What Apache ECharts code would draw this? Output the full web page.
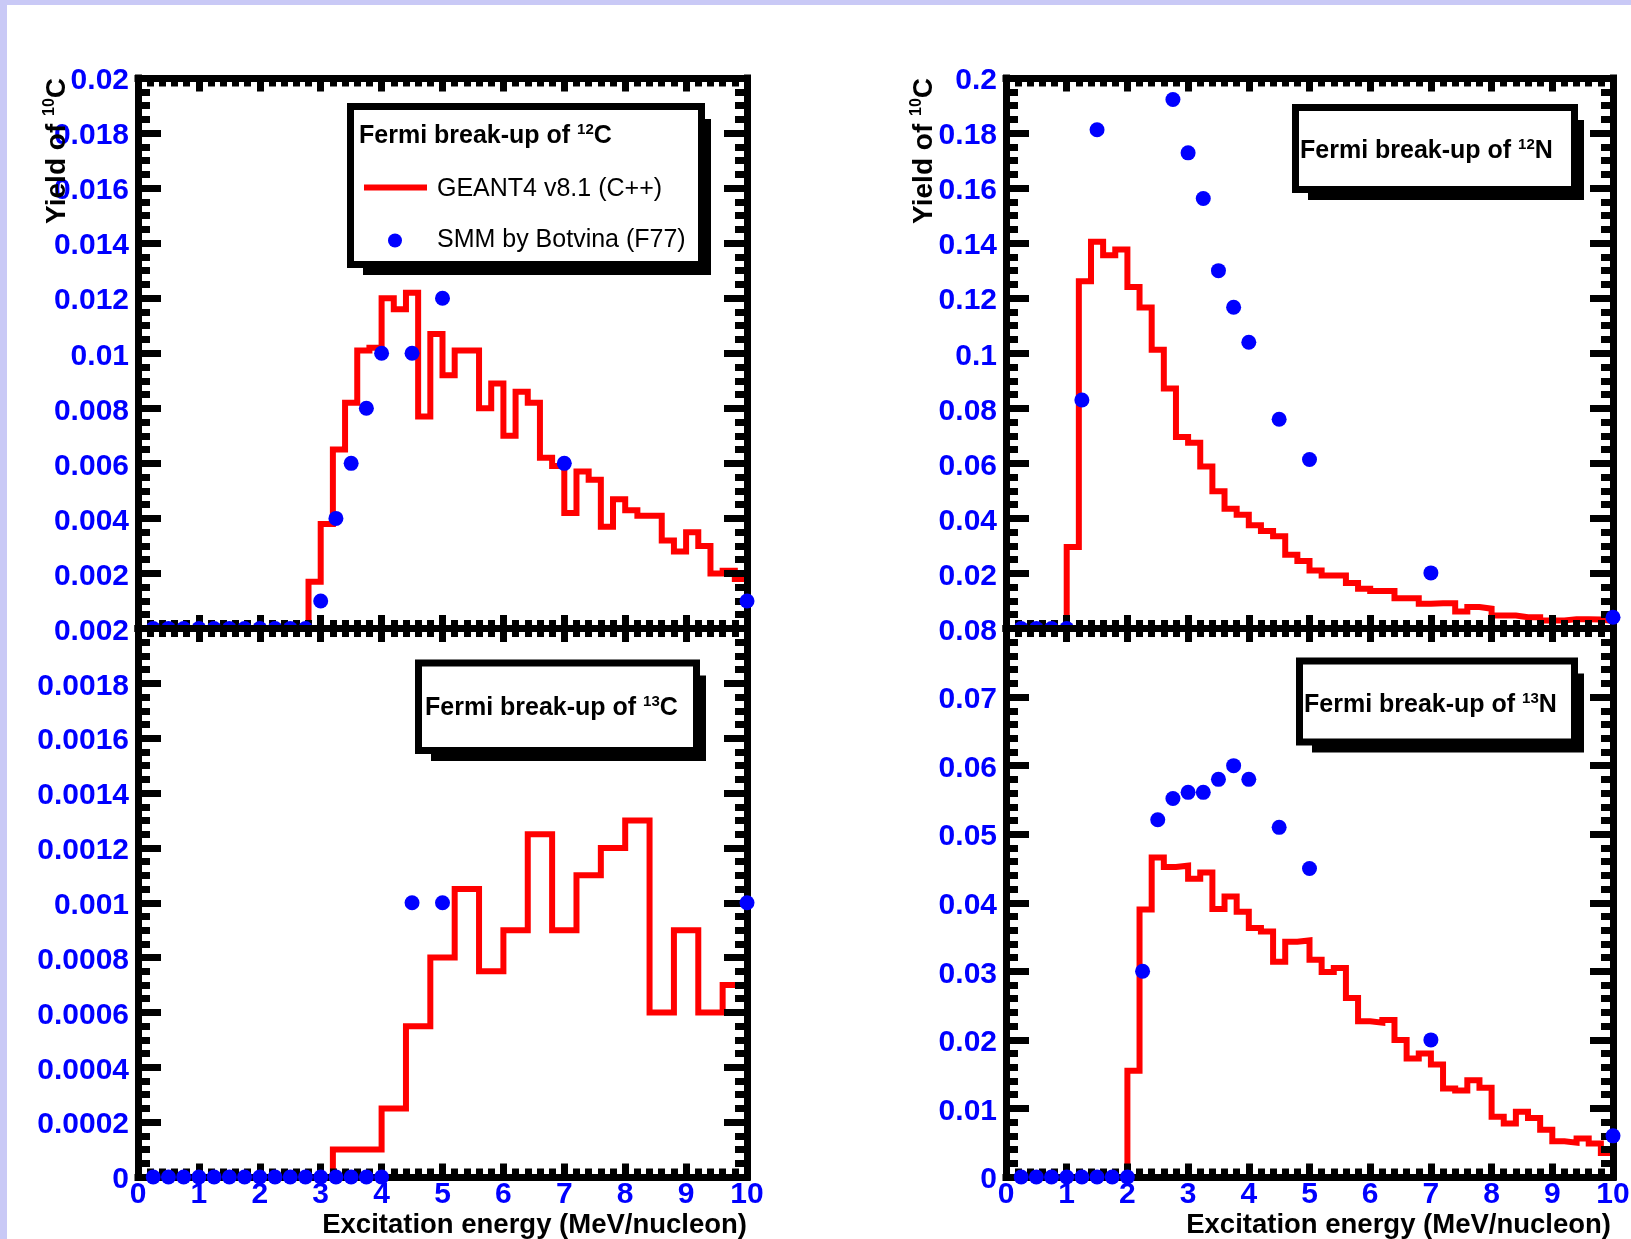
<!DOCTYPE html>
<html>
<head>
<meta charset="utf-8">
<title>Fermi break-up: yield of 10C</title>
<script src="https://cdn.jsdelivr.net/npm/echarts@6/dist/echarts.min.js"></script>
<style>
  html, body { margin: 0; padding: 0; background: #ffffff; }
  #chart { width: 1631px; height: 1239px; }
</style>
</head>
<body>
<div id="chart"></div>
<script>
// ---------------------------------------------------------------
// Data
// ---------------------------------------------------------------
// Histogram bin widths in MeV/nucleon (bins start at 0)
const binWidthFine = 0.2;    // 50 bins on 0..10
const binWidthCoarse = 0.4;  // 25 bins on 0..10

// GEANT4 v8.1 (C++) histogram contents, one value per bin
const geant12C = [
  0, 0, 0, 0, 0, 0, 0, 0, 0, 0,
  0, 0, 0, 0, 0.0017, 0.0038, 0.0065, 0.0082, 0.0101, 0.0102,
  0.0120, 0.0116, 0.0122, 0.0077, 0.0107, 0.0092, 0.0101, 0.0101, 0.0080, 0.0089,
  0.0070, 0.0086, 0.0082, 0.0062, 0.0059, 0.0042, 0.0057, 0.0054, 0.0037, 0.0047,
  0.0043, 0.0041, 0.0041, 0.0032, 0.0028, 0.0035, 0.0030, 0.0020, 0.0021, 0.0018
];
const geant12N = [
  0, 0, 0, 0, 0, 0.0296, 0.1262, 0.1405, 0.1356, 0.1377,
  0.1241, 0.1166, 0.1013, 0.0872, 0.0696, 0.0675, 0.0589, 0.0499, 0.0435, 0.0413,
  0.0375, 0.0354, 0.0335, 0.0268, 0.0245, 0.0211, 0.0193, 0.0193, 0.0165, 0.0144,
  0.0136, 0.0136, 0.0110, 0.0110, 0.0090, 0.0092, 0.0092, 0.0062, 0.0078, 0.0072,
  0.0047, 0.0047, 0.0041, 0.0041, 0.0029, 0.0029, 0.0034, 0.0034, 0.0033, 0.0027
];
const geant13C = [
  0, 0, 0, 0, 0, 0, 0, 0, 0.0001, 0.0001,
  0.00025, 0.00055, 0.0008, 0.00105, 0.00075, 0.0009, 0.00125, 0.0009, 0.0011, 0.0012,
  0.0013, 0.0006, 0.0009, 0.0006, 0.0007
];
const geant13N = [
  0, 0, 0, 0, 0, 0, 0, 0, 0, 0,
  0.0155, 0.0390, 0.0466, 0.0452, 0.0454, 0.0435, 0.0444, 0.0391, 0.0409, 0.0387,
  0.0363, 0.0358, 0.0314, 0.0343, 0.0345, 0.0317, 0.0299, 0.0305, 0.0261, 0.0227,
  0.0225, 0.0229, 0.0200, 0.0173, 0.0180, 0.0164, 0.0129, 0.0126, 0.0141, 0.0130,
  0.0088, 0.0078, 0.0095, 0.0086, 0.0069, 0.0052, 0.0050, 0.0056, 0.0049, 0.0035
];

// SMM by Botvina (F77): excitation energy and yield
const smm12C_E = [0.25, 0.5, 0.75, 1, 1.25, 1.5, 1.75, 2, 2.25, 2.5, 2.75, 3, 3.25, 3.5, 3.75, 4, 4.5, 5, 7, 10];
const smm12C_Y = [0, 0, 0, 0, 0, 0, 0, 0, 0, 0, 0, 0.001, 0.004, 0.006, 0.008, 0.010, 0.010, 0.012, 0.006, 0.001];

const smm12N_E = [0.25, 0.5, 0.75, 1, 1.25, 1.5, 2.75, 3, 3.25, 3.5, 3.75, 4, 4.5, 5, 7, 10];
const smm12N_Y = [0, 0, 0, 0, 0.0830, 0.1812, 0.1922, 0.1728, 0.1562, 0.1300, 0.1167, 0.1040, 0.0760, 0.0614, 0.0202, 0.0041];

const smm13C_E = [0.25, 0.5, 0.75, 1, 1.25, 1.5, 1.75, 2, 2.25, 2.5, 2.75, 3, 3.25, 3.5, 3.75, 4, 4.5, 5, 10];
const smm13C_Y = [0, 0, 0, 0, 0, 0, 0, 0, 0, 0, 0, 0, 0, 0, 0, 0, 0.001, 0.001, 0.001];

const smm13N_E = [0.25, 0.5, 0.75, 1, 1.25, 1.5, 1.75, 2, 2.25, 2.5, 2.75, 3, 3.25, 3.5, 3.75, 4, 4.5, 5, 7, 10];
const smm13N_Y = [0, 0, 0, 0, 0, 0, 0, 0, 0.0300, 0.0521, 0.0552, 0.0561, 0.0561, 0.0580, 0.0600, 0.0580, 0.0510, 0.0450, 0.0200, 0.0060];

// Axis ticks
const xTicks = [0, 1, 2, 3, 4, 5, 6, 7, 8, 9, 10];
const yTicks12C = [0, 0.002, 0.004, 0.006, 0.008, 0.01, 0.012, 0.014, 0.016, 0.018, 0.02];
const yTicks13C = [0, 0.0002, 0.0004, 0.0006, 0.0008, 0.001, 0.0012, 0.0014, 0.0016, 0.0018, 0.002];
const yTicks12N = [0, 0.02, 0.04, 0.06, 0.08, 0.1, 0.12, 0.14, 0.16, 0.18, 0.2];
const yTicks13N = [0, 0.01, 0.02, 0.03, 0.04, 0.05, 0.06, 0.07, 0.08];

// Texts
const xTitle = 'Excitation energy (MeV/nucleon)';
const legendGeant = 'GEANT4 v8.1 (C++)';
const legendSmm = 'SMM by Botvina (F77)';

// ---------------------------------------------------------------
// Helpers
// ---------------------------------------------------------------
const BLUE = '#0000ff';
const RED = '#ff0000';
const SANS = "'Liberation Sans', Arial, Helvetica, sans-serif";

function histPoints(values, width) {
  const pts = values.map((v, i) => [+(i * width).toFixed(4), v]);
  pts.push([+(values.length * width).toFixed(4), values[values.length - 1]]);
  return pts;
}
function zip(xs, ys) { return xs.map((x, i) => [x, ys[i]]); }
function fmt(v) { return String(+(+v).toPrecision(6)); }
function fmtY(v) { return '{t|' + fmt(v) + '}'; }

// Panel layout: [left, top, width, height]
const panels = [
  { rect: [138, 78, 609, 550.5],     y: yTicks12C, minor: 4, lower: false, hist: geant12C, bw: binWidthFine,   smm: zip(smm12C_E, smm12C_Y) },
  { rect: [138, 628.5, 609, 548.5],  y: yTicks13C, minor: 4, lower: true,  hist: geant13C, bw: binWidthCoarse, smm: zip(smm13C_E, smm13C_Y) },
  { rect: [1006, 78, 607, 550.5],    y: yTicks12N, minor: 4, lower: false, hist: geant12N, bw: binWidthFine,   smm: zip(smm12N_E, smm12N_Y) },
  { rect: [1006, 628.5, 607, 548.5], y: yTicks13N, minor: 5, lower: true,  hist: geant13N, bw: binWidthFine,   smm: zip(smm13N_E, smm13N_Y) }
];

const grids = [], xAxes = [], yAxes = [], series = [];

panels.forEach((p, g) => {
  const zBase = p.lower ? 4 : 0;
  grids.push({
    left: p.rect[0], top: p.rect[1], width: p.rect[2], height: p.rect[3],
    show: p.lower, backgroundColor: '#ffffff', borderWidth: 0,
    containLabel: false, outerBoundsMode: 'none', z: zBase
  });
  const frame = { show: true, onZero: false, lineStyle: { color: '#000', width: 7, cap: 'square' } };
  ['bottom', 'top'].forEach((pos) => {
    xAxes.push({
      gridIndex: g, type: 'value', position: pos,
      min: xTicks[0], max: xTicks[xTicks.length - 1], interval: xTicks[1] - xTicks[0],
      axisLine: frame,
      axisTick: { show: true, inside: true, length: 13.5, lineStyle: { color: '#000', width: 7 } },
      minorTick: { show: true, splitNumber: 5, length: 8.5, lineStyle: { color: '#000', width: 7 } },
      splitLine: { show: false }, minorSplitLine: { show: false },
      axisLabel: {
        show: pos === 'bottom' && p.lower, margin: 3, color: BLUE,
        fontFamily: SANS, fontWeight: 'bold', fontSize: 30, formatter: fmt
      },
      z: zBase + 2
    });
  });
  ['left', 'right'].forEach((pos) => {
    yAxes.push({
      gridIndex: g, type: 'value', position: pos,
      min: p.y[0], max: p.y[p.y.length - 1], interval: p.y[1] - p.y[0],
      axisLine: frame,
      axisTick: { show: true, inside: true, length: 23, lineStyle: { color: '#000', width: 7 } },
      minorTick: { show: true, splitNumber: p.minor, length: 12, lineStyle: { color: '#000', width: 7 } },
      splitLine: { show: false }, minorSplitLine: { show: false },
      axisLabel: {
        show: pos === 'left', margin: 9, color: BLUE, showMinLabel: p.lower,
        fontFamily: SANS, fontWeight: 'bold', fontSize: 30, formatter: fmtY,
        rich: { t: { color: BLUE, fontFamily: SANS, fontWeight: 'bold', fontSize: 30, padding: [6, 0, 0, 0] } }
      },
      z: zBase + 2
    });
  });
  series.push({
    type: 'line', name: legendGeant, xAxisIndex: 2 * g, yAxisIndex: 2 * g,
    data: histPoints(p.hist, p.bw), step: 'end', symbol: 'none', clip: true,
    lineStyle: { color: RED, width: 6, join: 'miter', opacity: 1 }, itemStyle: { color: RED },
    z: zBase + 1, animation: false
  });
  series.push({
    type: 'scatter', name: legendSmm, xAxisIndex: 2 * g, yAxisIndex: 2 * g,
    data: p.smm, symbol: 'circle', symbolSize: 15, clip: false,
    itemStyle: { color: BLUE, opacity: 1 }, z: zBase + 3, animation: false
  });
});

// ---------------------------------------------------------------
// Titles, labelled boxes and legend
// ---------------------------------------------------------------
function supText(parts, size, supSize, weight, family) {
  return {
    text: parts.map(([k, t]) => '{' + k + '|' + t + '}').join(''),
    rich: {
      n: { fontSize: size, fontWeight: weight, fontFamily: family, fill: '#000', lineHeight: size + 2 },
      s: { fontSize: supSize, fontWeight: weight, fontFamily: family, fill: '#000', verticalAlign: 'top', lineHeight: size - 2 }
    }
  };
}

function paveBox(l, t, r, b) {
  return [
    { type: 'rect', z: 100, shape: { x: l + 16, y: t + 16, width: r - l - 10, height: b - t - 9 }, style: { fill: '#000' } },
    { type: 'rect', z: 101, shape: { x: l + 3.5, y: t + 3.5, width: r - l - 7, height: b - t - 7 }, style: { fill: '#fff', stroke: '#000', lineWidth: 7 } }
  ];
}

function paveTitle(x, y, nucleus, mass) {
  const st = supText([['n', 'Fermi break-up of '], ['s', mass], ['n', nucleus]], 25, 15, 'bold', SANS);
  return { type: 'text', z: 102, x: x, y: y, style: Object.assign(st, { align: 'left', verticalAlign: 'middle' }) };
}

function yTitle(x, y) {
  const st = supText([['n', 'Yield of '], ['s', '10'], ['n', 'C']], 28, 16, 'bold', SANS);
  return { type: 'text', z: 102, x: x, y: y, rotation: Math.PI / 2, style: Object.assign(st, { align: 'right', verticalAlign: 'middle' }) };
}

function xTitleText(x, y) {
  return { type: 'text', z: 102, x: x, y: y, style: { text: xTitle, fill: '#000', font: 'bold 27.5px ' + SANS, align: 'right', verticalAlign: 'middle' } };
}

const legendFont = '25px ' + SANS;

const graphics = [
  // page edge strips
  { type: 'rect', z: 0, shape: { x: 0, y: 0, width: 1631, height: 5 }, style: { fill: '#c9c9f6' } },
  { type: 'rect', z: 0, shape: { x: 0, y: 0, width: 7, height: 1239 }, style: { fill: '#c9c9f6' } },

  ...paveBox(347, 103, 705, 268),
  paveTitle(359, 136, 'C', '12'),
  { type: 'line', z: 102, shape: { x1: 364, y1: 187.5, x2: 427, y2: 187.5 }, style: { stroke: RED, lineWidth: 6 } },
  { type: 'text', z: 102, x: 437, y: 189.5, style: { text: legendGeant, fill: '#000', font: legendFont, align: 'left', verticalAlign: 'middle' } },
  { type: 'circle', z: 102, shape: { cx: 395, cy: 240.5, r: 7 }, style: { fill: BLUE } },
  { type: 'text', z: 102, x: 437, y: 240, style: { text: legendSmm, fill: '#000', font: legendFont, align: 'left', verticalAlign: 'middle' } },

  ...paveBox(1292, 104, 1578, 193),
  paveTitle(1300, 151, 'N', '12'),

  ...paveBox(415, 659.5, 700, 754),
  paveTitle(425, 708, 'C', '13'),

  ...paveBox(1296, 657.5, 1578, 745.5),
  paveTitle(1304, 705, 'N', '13'),

  yTitle(57, 78),
  yTitle(924, 78),
  xTitleText(747, 1225),
  xTitleText(1611, 1225)
];

const chart = echarts.init(document.getElementById('chart'), null, { renderer: 'canvas' });
chart.setOption({
  animation: false,
  backgroundColor: '#ffffff',
  grid: grids,
  xAxis: xAxes,
  yAxis: yAxes,
  series: series,
  graphic: { elements: graphics }
});
</script>
</body>
</html>
